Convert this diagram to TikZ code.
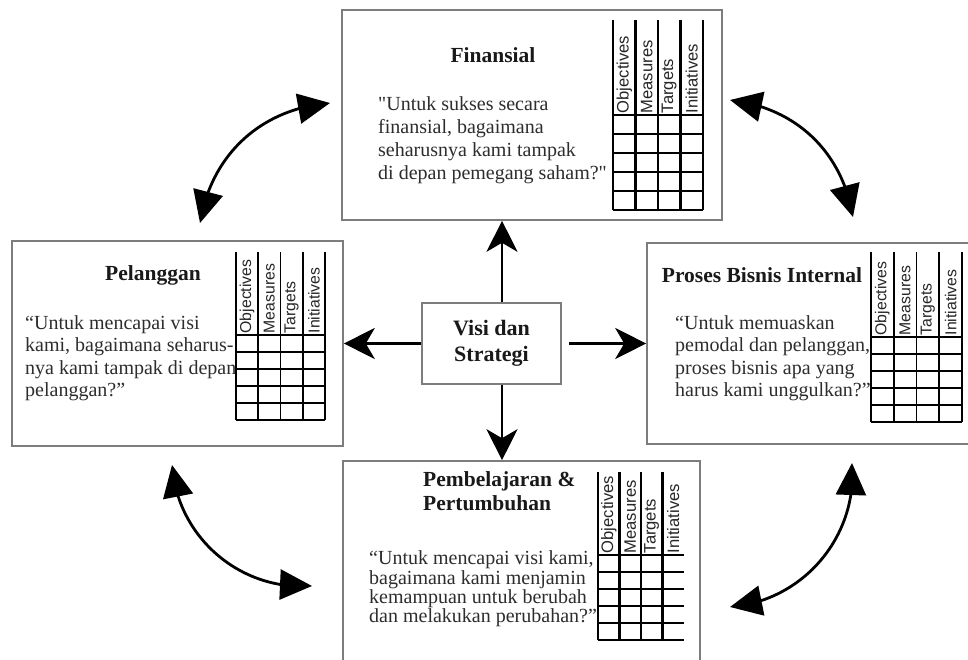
\documentclass[tikz,border=0pt]{standalone}
\usepackage{fontspec}
\setmainfont{Liberation Serif}
\setsansfont{Liberation Sans}
\newfontfamily\plainserif{Liberation Serif}
\usetikzlibrary{arrows.meta,bending}
\definecolor{boxgray}{RGB}{125,125,125}
\definecolor{txtgray}{RGB}{45,45,45}
\definecolor{ttlgray}{RGB}{25,25,25}

\newcommand{\kpitab}[8]{%
  \foreach \i in {0,...,#7}{%
    \ifodd\i \def\lw{2.3pt}\else\def\lw{1.3pt}\fi
    \draw[line width=\lw] ({#2+\i*#5},#3) -- ({#2+\i*#5},{#4+5*#6});
  }%
  \foreach \j in {0,...,5}
    \draw[tabline] (#2,{#4+\j*#6}) -- ({#2+4*#5},{#4+\j*#6});
  \foreach \i/\t in {0/Objectives,1/Measures,2/Targets,3/Initiatives}
    \node[hdr, font=\sffamily\fontsize{#8}{#8}\selectfont] (#1-\i) at ({#2+(\i+0.5)*#5},{#4-1.5}) {\t};
}

\tikzset{
  panel/.style={draw=boxgray, line width=1.6pt, fill=white, inner sep=0pt},
  tabline/.style={line width=2pt, black},
  hdr/.style={rotate=90, anchor=west, inner sep=0pt, text=black!85},
  ttl/.style={font=\bfseries\fontsize{21.5}{24}\selectfont, text=ttlgray, inner sep=0pt},
  quote/.style={align=left, anchor=west, inner sep=0pt, text=txtgray},
  arr/.style={line width=2.6pt, -{Stealth[length=31pt,width=31pt,inset=9pt]}},
  cur/.style={line width=2.8pt, {Triangle[length=32pt,width=30pt]}-{Triangle[length=32pt,width=30pt]}}
}

\begin{document}
\begin{tikzpicture}[x=1pt,y=-1pt]
\useasboundingbox (0,0) rectangle (968,660);
\fill[white] (0,0) rectangle (968,660);
\clip (0,0) rectangle (968,660);

% panels
\node[panel, minimum width=380, minimum height=210] (fin) at (532,115) {};
\node[panel, minimum width=331, minimum height=205] (pel) at (177.5,343.5) {};
\node[panel, minimum width=333, minimum height=201] (pro) at (813.5,343.5) {};
\node[panel, minimum width=357, minimum height=219] (pem) at (521.5,570.5) {};
\node[panel, minimum width=139, minimum height=81, align=center,
      font=\bfseries\fontsize{22}{26}\selectfont, text=ttlgray] (visi) at (491.5,343.5) {Visi dan\\Strategi};

% Finansial
\node[ttl] (fint) at (493,55) {Finansial};
\node[quote, font=\plainserif\fontsize{20}{23}\selectfont] (finq) at (378,140)
  {"Untuk sukses secara\\finansial, bagaimana\\seharusnya kami tampak\\di depan pemegang saham?"};
\kpitab{fintab}{613}{20}{115}{22.5}{19}{4}{16.6}

% Pelanggan
\node[ttl] (pelt) at (153,275) {Pelanggan};
\node[quote, font=\fontsize{20}{22.5}\selectfont] (pelq) at (25,358)
  {“Untuk mencapai visi\\kami, bagaimana seharus-\\nya kami tampak di depan\\pelanggan?”};
\kpitab{peltab}{236}{252}{335}{22.25}{17}{4}{15.8}

% Proses Bisnis Internal
\node[ttl] (prot) at (762,275) {Proses Bisnis Internal};
\node[quote, font=\fontsize{20}{22.5}\selectfont] (proq) at (675,358)
  {“Untuk memuaskan\\pemodal dan pelanggan,\\proses bisnis apa yang\\harus kami unggulkan?”};
\kpitab{protab}{871}{252}{337}{22.75}{17}{4}{15.8}

% Pembelajaran & Pertumbuhan
\node[ttl, align=left, anchor=west] (pemt) at (423,491) {Pembelajaran \&\\Pertumbuhan};
\node[quote, font=\fontsize{20}{19.4}\selectfont] (pemq) at (369,589)
  {“Untuk mencapai visi kami,\\bagaimana kami menjamin\\kemampuan untuk berubah\\dan melakukan perubahan?”};
\kpitab{pemtab}{598}{472}{555}{21.5}{17}{3}{16.6}

% straight arrows from the centre
\coordinate (ax) at (502,0);
\draw[arr] (visi.north -| ax) -- (fin.south -| ax);
\draw[arr] (visi.south -| ax) -- (pem.north -| ax);
\draw[arr] (visi.west) -- (pel.east);
\draw[arr, shorten <=7pt] (visi.east) -- (pro.west);

% curved double arrows
\coordinate (tl1) at (200,223); \coordinate (tl2) at (330,103);
\coordinate (tr1) at (730,100); \coordinate (tr2) at (853,217);
\coordinate (bl1) at (172,465); \coordinate (bl2) at (312,586);
\coordinate (br1) at (852,463); \coordinate (br2) at (730,607);
\draw[cur] (tl1) to[bend left=38] (tl2);
\draw[cur] (tr1) to[bend left=37] (tr2);
\draw[cur] (bl1) to[bend right=45] (bl2);
\draw[cur] (br1) to[bend left=45] (br2);
\end{tikzpicture}
\end{document}
